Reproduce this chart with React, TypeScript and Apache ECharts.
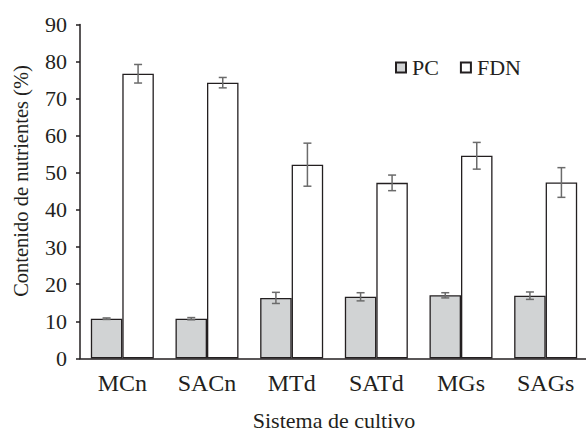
import React, { useEffect, useRef } from "react";
import * as echarts from "echarts";

const categories = ["MCn", "SACn", "MTd", "SATd", "MGs", "SAGs"];
const pcValues = [10.7, 10.7, 16.3, 16.6, 17.0, 16.9];
const pcErrors = [0.2, 0.3, 1.5, 1.1, 0.7, 1.0];
const fdnValues = [76.7, 74.3, 52.2, 47.3, 54.6, 47.4];
const fdnErrors = [2.5, 1.4, 5.8, 2.1, 3.6, 4.0];
const yTicks = { min: 0, max: 90, interval: 10 };
const yTitle = "Contenido de nutrientes (%)";
const xTitle = "Sistema de cultivo";

const FONT = "Times New Roman";
const INK = "#231f20";
const BAR_W = 31.5;

function errorSeries(values: number[], errors: number[], offset: number) {
  return {
    type: "custom",
    z: 10,
    silent: true,
    data: values.map((v, i) => [i, v, errors[i]]),
    encode: { x: 0, y: 1 },
    renderItem: (params: any, api: any) => {
      const idx = api.value(0);
      const v = api.value(1);
      const e = api.value(2);
      const c = api.coord([idx, v]);
      const x = c[0] + offset;
      const top = api.coord([idx, v + e])[1];
      const bot = api.coord([idx, v - e])[1];
      const cap = 4;
      const style = { stroke: "#6b6b6b", lineWidth: 1.5 };
      return {
        type: "group",
        children: [
          { type: "line", shape: { x1: x, y1: top, x2: x, y2: bot }, style },
          { type: "line", shape: { x1: x - cap, y1: top, x2: x + cap, y2: top }, style },
          { type: "line", shape: { x1: x - cap, y1: bot, x2: x + cap, y2: bot }, style },
        ],
      };
    },
  };
}

export default function App() {
  const ref = useRef<HTMLDivElement>(null);
  useEffect(() => {
    if (!ref.current) return;
    const chart = echarts.init(ref.current, null, { renderer: "svg" });
    chart.setOption({
      animation: false,
      backgroundColor: "#ffffff",
      textStyle: { fontFamily: FONT },
      grid: { left: 80, top: 24.4, width: 508, height: 334, outerBoundsMode: "none", containLabel: false },
      legend: {
        data: ["PC", "FDN"],
        left: 390,
        top: 51.5,
        icon: "rect",
        itemWidth: 10,
        itemHeight: 10,
        itemGap: 21,
        textStyle: { fontFamily: FONT, fontSize: 22, color: INK, padding: [0, 0, 0, 1] },
      },
      graphic: [
        {
          type: "text",
          x: 21,
          y: 181,
          rotation: Math.PI / 2,
          style: {
            text: yTitle,
            fontFamily: FONT,
            fontSize: 20.5,
            fill: INK,
            align: "center",
            verticalAlign: "middle",
          },
        },
      ],
      xAxis: {
        type: "category",
        data: categories,
        name: xTitle,
        nameLocation: "middle",
        nameGap: 51,
        nameMoveOverlap: false,
        nameTextStyle: { fontFamily: FONT, fontSize: 22, color: INK },
        axisLine: { lineStyle: { color: INK, width: 1.5 } },
        axisTick: { show: false },
        axisLabel: { fontFamily: FONT, fontSize: 24, color: INK, margin: 12.5 },
      },
      yAxis: {
        type: "value",
        min: yTicks.min,
        max: yTicks.max,
        interval: yTicks.interval,
        axisLine: { show: true, lineStyle: { color: INK, width: 1.5 } },
        axisTick: { show: true, length: 4, lineStyle: { color: INK, width: 1.5 } },
        splitLine: { show: false },
        axisLabel: { fontFamily: FONT, fontSize: 22, color: INK, margin: 13 },
      },
      series: [
        {
          name: "PC",
          type: "bar",
          data: pcValues,
          barWidth: BAR_W,
          barGap: "0%",
          itemStyle: { color: "#d1d3d4", borderColor: INK, borderWidth: 1.3 },
        },
        {
          name: "FDN",
          type: "bar",
          data: fdnValues,
          barWidth: BAR_W,
          barGap: "0%",
          itemStyle: { color: "#ffffff", borderColor: INK, borderWidth: 1.3 },
        },
        errorSeries(pcValues, pcErrors, -BAR_W / 2),
        errorSeries(fdnValues, fdnErrors, BAR_W / 2),
      ],
    });
    return () => chart.dispose();
  }, []);
  return (
    <div
      ref={ref}
      style={{ position: "absolute", left: 0, top: 0, width: 586, height: 435 }}
    />
  );
}
